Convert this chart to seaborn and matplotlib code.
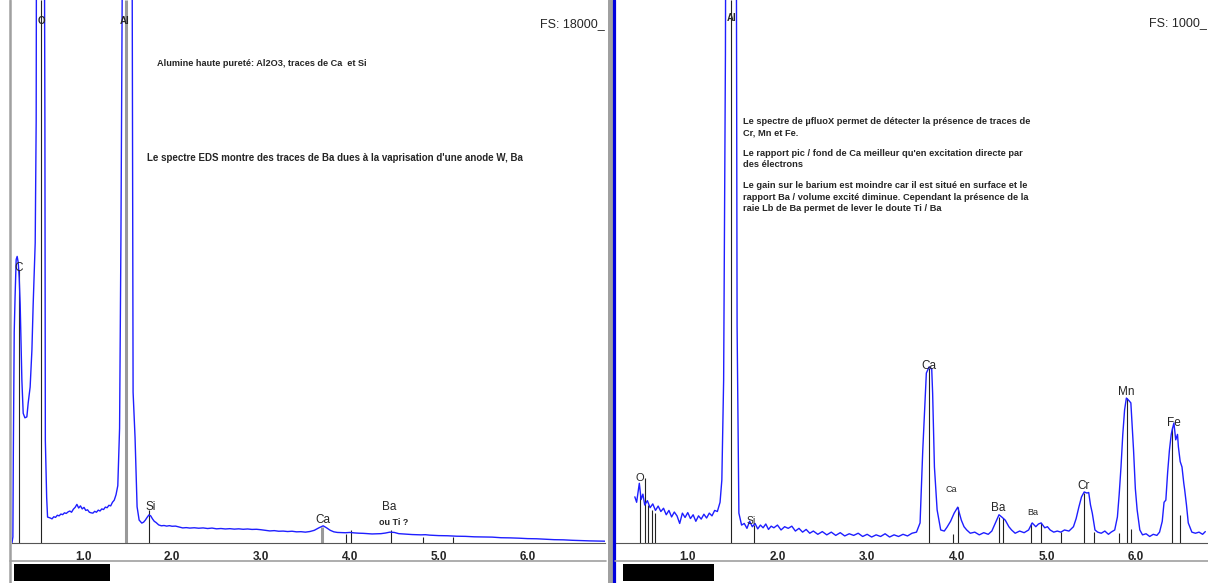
import matplotlib
matplotlib.use("Agg")
import matplotlib.pyplot as plt
from matplotlib.lines import Line2D
from matplotlib.patches import Rectangle
import seaborn as sns

# ---------------- DATA ----------------
# Left spectrum: EDS, alumina (energy keV, counts), full scale 18000
left_energy = [0.20, 0.21, 0.215, 0.225, 0.235, 0.247, 0.258, 0.270, 0.281, 0.292, 0.311, 0.326,
               0.345, 0.367, 0.382, 0.404, 0.424, 0.438, 0.461, 0.472, 0.480, 0.525, 0.555, 0.570,
               0.575, 0.59, 0.60, 0.63, 0.65, 0.67, 0.69, 0.71, 0.73, 0.75, 0.77, 0.79, 0.81, 0.83,
               0.85, 0.87, 0.89, 0.91, 0.93, 0.95, 0.97, 0.99, 1.01, 1.03, 1.05, 1.07, 1.09, 1.11,
               1.13, 1.15, 1.17, 1.19, 1.21, 1.23, 1.25, 1.27, 1.29, 1.31, 1.33, 1.35, 1.37, 1.39,
               1.41, 1.425, 1.44, 1.49, 1.552, 1.562, 1.584, 1.607, 1.63, 1.66, 1.68, 1.70, 1.72,
               1.74, 1.76, 1.78, 1.80, 1.82, 1.85, 1.88, 1.91, 1.94, 1.97, 2.00, 2.04, 2.08, 2.12,
               2.16, 2.20, 2.25, 2.30, 2.35, 2.40, 2.45, 2.50, 2.55, 2.60, 2.65, 2.70, 2.75, 2.80,
               2.85, 2.90, 2.95, 3.00, 3.05, 3.10, 3.15, 3.20, 3.25, 3.30, 3.35, 3.40, 3.45, 3.50,
               3.55, 3.60, 3.65, 3.70, 3.74, 3.78, 3.82, 3.86, 3.90, 3.95, 4.00, 4.05, 4.10, 4.15,
               4.20, 4.25, 4.30, 4.35, 4.40, 4.45, 4.50, 4.55, 4.60, 4.65, 4.70, 4.75, 4.80, 4.85,
               4.90, 5.00, 5.10, 5.20, 5.30, 5.40, 5.50, 5.60, 5.70, 5.80, 5.90, 6.00, 6.10, 6.20,
               6.30, 6.40, 6.50, 6.60, 6.70, 6.87]
left_counts = [0, 200, 3000, 7000, 8200, 9400, 9500, 9300, 8800, 7900, 5400, 4300,
               4150, 4180, 4640, 5170, 6400, 7900, 9950, 14000, 30000, 45000, 30000, 14000,
               3400, 1500, 860, 830, 800, 870, 850, 920, 900, 960, 940, 1000, 980, 1030,
               1060, 1020, 1120, 1180, 1280, 1160, 1230, 1130, 1180, 1080, 1100, 1020, 1000, 990,
               1050, 1020, 1090, 1060, 1130, 1110, 1190, 1170, 1250, 1230, 1350, 1420, 1600, 1900,
               3800, 10000, 18500, 60000, 18500, 5000, 3500, 1200, 760, 660, 690, 760, 850,
               930, 900, 800, 720, 680, 600, 570, 580, 560, 575, 555, 560, 530, 500,
               510, 495, 505, 490, 500, 480, 495, 470, 480, 465, 475, 460, 470, 455,
               465, 450, 455, 440, 420, 400, 410, 390, 395, 380, 390, 370, 375, 360,
               380, 420, 500, 570, 500, 420, 370, 350, 345, 340, 350, 335, 325, 320,
               310, 300, 305, 310, 330, 360, 350, 310, 300, 290, 280, 275, 270, 275,
               260, 245, 240, 225, 220, 205, 200, 195, 175, 170, 160, 145, 140, 125,
               110, 105, 90, 80, 70, 60]

# Right spectrum: micro-XRF (energy keV, counts), full scale 1000
right_energy = [0.41, 0.43, 0.46, 0.48, 0.50, 0.52, 0.55, 0.58, 0.61, 0.64, 0.67, 0.70, 0.73,
                0.76, 0.79, 0.82, 0.85, 0.88, 0.91, 0.94, 0.97, 1.00, 1.03, 1.06, 1.09, 1.12,
                1.15, 1.18, 1.21, 1.24, 1.27, 1.30, 1.33, 1.36, 1.38, 1.40, 1.42, 1.45, 1.49,
                1.52, 1.55, 1.57, 1.60, 1.63, 1.66, 1.69, 1.72, 1.75, 1.78, 1.81, 1.84, 1.87,
                1.90, 1.93, 1.96, 2.00, 2.04, 2.08, 2.12, 2.16, 2.20, 2.24, 2.28, 2.32, 2.36,
                2.40, 2.45, 2.50, 2.55, 2.60, 2.65, 2.70, 2.75, 2.80, 2.85, 2.90, 2.95, 3.00,
                3.05, 3.10, 3.15, 3.20, 3.25, 3.30, 3.35, 3.40, 3.45, 3.50, 3.55, 3.59, 3.62,
                3.66, 3.69, 3.72, 3.73, 3.75, 3.78, 3.82, 3.86, 3.89, 3.93, 3.97, 4.01, 4.05,
                4.08, 4.11, 4.15, 4.20, 4.25, 4.30, 4.35, 4.39, 4.43, 4.47, 4.50, 4.54, 4.58,
                4.61, 4.65, 4.70, 4.75, 4.80, 4.84, 4.88, 4.91, 4.94, 4.98, 5.01, 5.04, 5.08,
                5.12, 5.16, 5.20, 5.25, 5.30, 5.33, 5.36, 5.39, 5.42, 5.45, 5.47, 5.49, 5.51,
                5.54, 5.57, 5.61, 5.65, 5.69, 5.72, 5.76, 5.79, 5.81, 5.83, 5.85, 5.87, 5.89,
                5.92, 5.94, 5.96, 5.97, 5.99, 6.01, 6.04, 6.07, 6.11, 6.15, 6.19, 6.23, 6.26,
                6.29, 6.31, 6.33, 6.35, 6.37, 6.39, 6.40, 6.42, 6.44, 6.46, 6.47, 6.49, 6.51,
                6.53, 6.54, 6.56, 6.58, 6.62, 6.66, 6.70, 6.74, 6.77]
right_counts = [85, 75, 110, 80, 90, 70, 78, 65, 72, 60, 68, 58, 64,
                52, 60, 48, 57, 50, 36, 55, 47, 56, 45, 52, 40, 50,
                44, 53, 46, 55, 50, 60, 58, 75, 116, 300, 900, 3000, 5000,
                3000, 400, 55, 33, 36, 27, 40, 30, 36, 26, 33, 28, 35,
                25, 31, 28, 33, 24, 30, 27, 31, 22, 27, 20, 25, 18,
                22, 16, 21, 15, 20, 14, 19, 13, 17, 14, 18, 12, 16,
                11, 15, 12, 17, 11, 15, 12, 16, 13, 18, 20, 37, 171,
                313, 324, 320, 276, 140, 61, 24, 22, 29, 40, 55, 66, 42,
                30, 24, 18, 20, 15, 19, 16, 22, 37, 52, 48, 42, 30,
                24, 18, 22, 19, 24, 37, 30, 35, 37, 28, 30, 24, 20,
                22, 20, 24, 22, 30, 45, 66, 85, 94, 92, 93, 70, 55,
                24, 20, 18, 22, 16, 20, 24, 48, 90, 140, 200, 245, 267,
                262, 258, 200, 171, 100, 61, 24, 15, 17, 12, 16, 14, 20,
                40, 75, 79, 130, 171, 200, 208, 221, 190, 200, 177, 150, 140,
                110, 98, 70, 37, 20, 18, 20, 16, 21]

# Element marker lines (energy keV, height in counts)
left_marker_energy = [0.277, 0.525, 1.740, 3.960, 4.012, 4.466, 4.828, 5.157]
left_marker_height = [9050, 18000, 1090, 300, 430, 430, 200, 200]
left_major_energy = [1.487, 3.690]
left_major_height = [18000, 530]

right_marker_energy = [0.47, 0.525, 0.56, 0.60, 0.64, 1.487, 1.740, 3.690, 3.960, 4.012, 4.466,
                       4.520, 4.828, 4.936, 5.157, 5.415, 5.530, 5.810, 5.899, 5.947, 6.404, 6.490]
right_marker_height = [90, 120, 70, 60, 55, 1000, 33, 322, 17, 66, 48,
                       46, 37, 37, 20, 92, 20, 18, 267, 26, 214, 52]

left_fullscale = 18000
right_fullscale = 1000
left_xlim = (0.2, 6.87)
right_xlim = (0.4, 6.775)
major_ticks = [1, 2, 3, 4, 5, 6]
major_labels = ["1.0", "2.0", "3.0", "4.0", "5.0", "6.0"]
minor_ticks = [0.2, 0.4, 0.6, 0.8, 1.2, 1.4, 1.6, 1.8, 2.2, 2.4, 2.6, 2.8, 3.2, 3.4, 3.6, 3.8,
               4.2, 4.4, 4.6, 4.8, 5.2, 5.4, 5.6, 5.8, 6.2, 6.4, 6.6, 6.8]

# Peak labels: (text, energy, counts, fontsize, weight)
left_labels = [("C", 0.27, 9116, 8.5, "normal"), ("O", 0.53, 17300, 7, "bold"),
               ("Al", 1.47, 17300, 7, "bold"), ("Si", 1.76, 1193, 8.5, "normal"),
               ("Ca", 3.70, 762, 8.5, "normal"), ("Ba", 4.44, 1193, 8.5, "normal"),
               ("ou Ti ?", 4.49, 696, 6.5, "bold")]
right_labels = [("Al", 1.49, 967, 7, "bold"), ("O", 0.46, 120, 8, "normal"),
                ("Si", 1.71, 41, 7.5, "normal"), ("Ca", 3.69, 326, 8.5, "normal"),
                ("Ca", 3.94, 99, 6.5, "normal"), ("Ba", 4.46, 64, 8.5, "normal"),
                ("Ba", 4.85, 57, 6.5, "normal"), ("Cr", 5.41, 105, 8.5, "normal"),
                ("Mn", 5.89, 278, 8.5, "normal"), ("Fe", 6.42, 221, 8.5, "normal")]

left_notes = [("Alumine haute pureté: Al2O3, traces de Ca  et Si", 157, 63, 6.6),
              ("Le spectre EDS montre des traces de Ba dues à la vaprisation d'une anode W, Ba",
               147, 158, 7.0)]
right_notes = [("Le spectre de µfluoX permet de détecter la présence de traces de", 121),
               ("Cr, Mn et Fe.", 133),
               ("Le rapport pic / fond de Ca meilleur qu'en excitation directe par", 153),
               ("des électrons", 165),
               ("Le gain sur le barium est moindre car il est situé en surface et le", 186),
               ("rapport Ba / volume excité diminue. Cependant la présence de la", 197),
               ("raie Lb de Ba permet de lever le doute Ti / Ba", 209)]

# ---------------- PLOT ----------------
sns.set_style("white")
plt.rcParams["font.family"] = ["Liberation Sans", "DejaVu Sans"]

W, H = 1208, 583
fig = plt.figure(figsize=(W / 100, H / 100), dpi=100)
fig.patch.set_facecolor("white")


def fx(px):
    return px / W


def fy(py):
    return 1 - py / H


axL = fig.add_axes([fx(12), fy(543), (605 - 12) / W, 543 / H])
axR = fig.add_axes([fx(616), fy(543), (1208 - 616) / W, 543 / H])

spec_color = "#1e1eff"

for ax, e, c, fs, xl in [(axL, left_energy, left_counts, left_fullscale, left_xlim),
                         (axR, right_energy, right_counts, right_fullscale, right_xlim)]:
    sns.lineplot(x=e, y=c, ax=ax, color=spec_color, linewidth=1.0, estimator=None, zorder=3)
    ax.set_xlim(*xl)
    ax.set_ylim(0, fs)
    ax.set_yticks([])
    ax.set_xticks(major_ticks)
    ax.set_xticklabels(major_labels)
    ax.set_xticks(minor_ticks, minor=True)
    ax.tick_params(axis="x", which="both", direction="out", length=4, width=0.8,
                   color="#444444", pad=2, labelsize=8.5)
    for lbl in ax.get_xticklabels():
        lbl.set_fontweight("bold")
    for s in ["left", "top", "right"]:
        ax.spines[s].set_visible(False)
    ax.spines["bottom"].set_color("#555555")
    ax.spines["bottom"].set_linewidth(0.8)
    ax.set_facecolor("white")
    ax.set_xlabel("")
    ax.set_ylabel("")

# marker lines
axL.vlines(left_marker_energy, 0, left_marker_height, colors="#222222", linewidth=0.8, zorder=2)
axL.vlines(left_major_energy, 0, left_major_height, colors="#999999", linewidth=2.2, zorder=2)
axR.vlines(right_marker_energy, 0, right_marker_height, colors="#222222", linewidth=0.8, zorder=2)

for ax, labels in [(axL, left_labels), (axR, right_labels)]:
    for t, e, c, fsz, wt in labels:
        ax.text(e, c, t, fontsize=fsz, fontweight=wt, ha="center", va="center", zorder=5,
                clip_on=False)

for t, xpx, ypx, fsz in left_notes:
    fig.text(fx(xpx), fy(ypx), t, fontsize=fsz, fontweight="bold", ha="left", va="center")
for t, ypx in right_notes:
    fig.text(fx(743), fy(ypx), t, fontsize=6.7, fontweight="bold", ha="left", va="center")

fig.text(fx(605), fy(24), "FS: 18000_", fontsize=9, ha="right", va="center")
fig.text(fx(1207), fy(23), "FS: 1000_", fontsize=9, ha="right", va="center")

# window decorations
fig.add_artist(Line2D([fx(9.5), fx(9.5)], [0, 1], color="#a0a0a0", linewidth=1.8))
fig.add_artist(Line2D([fx(609.5), fx(609.5)], [0, 1], color="#a0a0a0", linewidth=3.6))
fig.add_artist(Line2D([fx(613.5), fx(613.5)], [0, 1], color="#0000dd", linewidth=2.3))
fig.add_artist(Line2D([fx(10), fx(606)], [fy(561), fy(561)], color="#a0a0a0", linewidth=1.2))
fig.add_artist(Line2D([fx(615), fx(1208)], [fy(561), fy(561)], color="#a0a0a0", linewidth=1.2))
fig.add_artist(Rectangle((fx(14), fy(581)), (110 - 14) / W, 17 / H, transform=fig.transFigure,
                         facecolor="black", edgecolor="none"))
fig.add_artist(Rectangle((fx(623), fy(581)), (714 - 623) / W, 17 / H, transform=fig.transFigure,
                         facecolor="black", edgecolor="none"))

fig.savefig("out.png", dpi=100, facecolor="white")
